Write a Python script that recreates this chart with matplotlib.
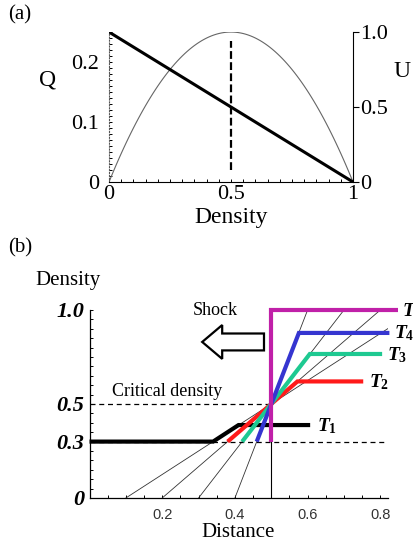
import numpy as np
import matplotlib

matplotlib.use("Agg")
import matplotlib.pyplot as plt
from matplotlib.patches import FancyArrow
from matplotlib.ticker import MultipleLocator

plt.rcParams["font.family"] = ["Liberation Serif", "DejaVu Serif"]
plt.rcParams["mathtext.fontset"] = "custom"
plt.rcParams["mathtext.it"] = "Liberation Serif:italic:bold"
plt.rcParams["mathtext.rm"] = "Liberation Serif:bold"

# panel (a): flow Q and speed U vs density
Q_DENSITY = [0.0, 1.0]
Q_VALUES = [0.25, 0.0]
U_DENSITY = np.linspace(0.0, 1.0, 101)
U_CURVE_Q = U_DENSITY * (1.0 - U_DENSITY)  # drawn on the Q scale
A_DASH_X = [0.5, 0.5]
A_DASH_Y = [0.02, 0.235]

# panel (b): characteristics through the critical point (0.5, 0.5)
CHAR_FOOT = [0.1, 0.2, 0.3, 0.4]
CHAR_HEAD = [0.9, 0.8, 0.7, 0.6]

# density profiles at successive times
PROFILES = {
    "T_{\\mathit{1}}": {"x": [0.0, 0.34, 0.41, 0.607], "y": [0.3, 0.3, 0.388, 0.388], "c": "black"},
    "T_{\\mathit{2}}": {"x": [0.38, 0.572, 0.753], "y": [0.3, 0.62, 0.62], "c": "#ff1a1a"},
    "T_{\\mathit{3}}": {"x": [0.42, 0.606, 0.805], "y": [0.3, 0.766, 0.766], "c": "#1ec991"},
    "T_{\\mathit{4}}": {"x": [0.46, 0.576, 0.825], "y": [0.3, 0.878, 0.878], "c": "#3535d0"},
    "T_{\\mathit{5}}": {"x": [0.5, 0.5, 0.849], "y": [0.3, 1.0, 1.0], "c": "#c020a8"},
}
LABEL_POS = [(0.625, 0.38), (0.77, 0.615), (0.818, 0.76), (0.838, 0.875), (0.86, 0.995)]

fig = plt.figure(figsize=(4.14, 5.43), dpi=100)
fig.patch.set_facecolor("white")

# ---------------- panel (a)
ax = fig.add_axes([0.2633, 0.6648, 0.5894, 0.2762])
ax.plot(U_DENSITY, U_CURVE_Q, color="#666666", lw=0.8)
ax.plot(Q_DENSITY, Q_VALUES, color="black", lw=2.2, solid_capstyle="butt")
ax.plot(A_DASH_X, A_DASH_Y, color="black", lw=1.6, ls=(0, (3.5, 1.5)))
ax.set_xlim(0, 1)
ax.set_ylim(0, 0.25)
ax.set_xticks([0, 0.5, 1])
ax.set_xticklabels(["0", "0.5", "1"])
ax.set_yticks([0, 0.1, 0.2])
ax.set_yticklabels(["0", "0.1", "0.2"])
ax.xaxis.set_minor_locator(MultipleLocator(0.05))
ax.yaxis.set_minor_locator(MultipleLocator(0.01))
ax.tick_params(which="both", direction="in", length=2, width=0.7, labelsize=16)
ax.tick_params(axis="x", pad=2)
ax.tick_params(axis="y", pad=7)
for s in ["top", "right"]:
    ax.spines[s].set_visible(False)
ax.spines["left"].set_linestyle(":")
ax.spines["left"].set_color("#555555")
ax.spines["bottom"].set_linewidth(0.8)
ax.set_xlabel("Density", fontsize=17, labelpad=2)
ax.set_ylabel("Q", fontsize=17, rotation=0, va="center", ha="center")
ax.yaxis.set_label_coords(-0.25, 0.68)

ax2 = ax.twinx()
ax2.set_ylim(0, 1.0)
ax2.set_yticks([0, 0.5, 1.0])
ax2.set_yticklabels(["0", "0.5", "1.0"])
ax2.tick_params(direction="out", length=4, width=0.8, labelsize=16, pad=1)
for s in ["top", "left", "bottom"]:
    ax2.spines[s].set_visible(False)
ax2.spines["right"].set_linewidth(0.8)
ax2.set_ylabel("U", fontsize=17, rotation=0, va="center", ha="center")
ax2.yaxis.set_label_coords(1.2, 0.74)

fig.text(8 / 414, 1 - 15 / 543, "(a)", fontsize=15, va="center", ha="left")

# ---------------- panel (b)
bx = fig.add_axes([0.2162, 0.0829, 0.720, 0.3462])
bx.set_xlim(0, 0.82)
bx.set_ylim(0, 1.0)

for foot, head in zip(CHAR_FOOT, CHAR_HEAD):
    bx.plot([foot, head], [0.0, 1.0], color="#333333", lw=0.6, zorder=2)

bx.plot([0, 0.505], [0.5, 0.5], color="black", lw=0.9, ls=(0, (4, 3)), zorder=2)
bx.plot([0, 0.82], [0.3, 0.3], color="black", lw=0.9, ls=(0, (4, 3)), zorder=2)
bx.plot([0.5, 0.5], [0.0, 0.3], color="black", lw=0.8, zorder=2)

for (name, prof), (lx, ly) in zip(PROFILES.items(), LABEL_POS):
    bx.plot(prof["x"], prof["y"], color=prof["c"], lw=3.0, clip_on=False,
            solid_capstyle="butt", solid_joinstyle="miter", zorder=3)
    bx.text(lx, ly, "$%s$" % name, fontsize=14, va="center", ha="left",
            clip_on=False)

# hollow arrow showing shock direction
bx.add_patch(FancyArrow(0.48, 0.83, -0.115, 0.0, width=0.09, head_width=0.18,
                        head_length=0.055, fc="white", ec="black", lw=1.6,
                        length_includes_head=False, zorder=4))
bx.text(0.283, 0.995, "Shock", fontsize=13, va="center", ha="left")
bx.text(0.062, 0.565, "Critical density", fontsize=13, va="center", ha="left")

bx.set_yticks([0, 0.3, 0.5, 1.0])
bx.set_yticklabels(["0", "0.3", "0.5", "1.0"], fontsize=16, fontweight="bold",
                   fontstyle="italic")
bx.set_xticks([0.2, 0.4, 0.6, 0.8])
bx.set_xticklabels(["0.2", "0.4", "0.6", "0.8"], fontsize=10.5,
                   family="Liberation Sans", color="#333333")
bx.xaxis.set_minor_locator(MultipleLocator(0.05))
bx.yaxis.set_minor_locator(MultipleLocator(0.05))
bx.tick_params(which="both", direction="in", length=2, width=0.7)
bx.tick_params(axis="y", pad=4)
bx.tick_params(axis="x", pad=7)
for s in ["top", "right"]:
    bx.spines[s].set_visible(False)
bx.spines["left"].set_linewidth(0.9)
bx.spines["bottom"].set_linewidth(0.9)
bx.set_xlabel("Distance", fontsize=15, labelpad=1)
fig.text(68 / 414, 1 - 281 / 543, "Density", fontsize=15, va="center", ha="center")
fig.text(8 / 414, 1 - 248 / 543, "(b)", fontsize=15, va="center", ha="left")

fig.savefig("out.png", dpi=100, facecolor="white")
